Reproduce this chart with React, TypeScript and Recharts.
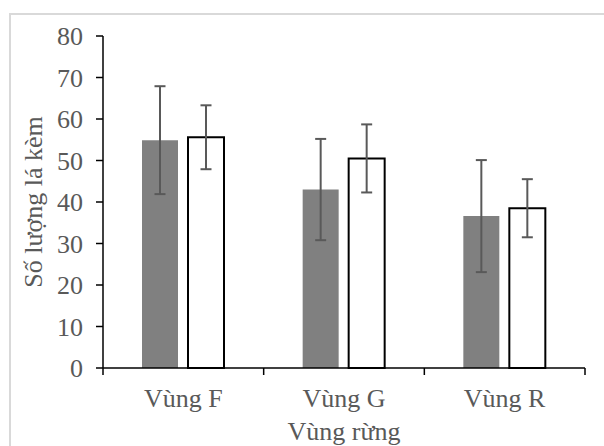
import React from 'react';
import { BarChart, Bar, XAxis, YAxis, ErrorBar, Label } from 'recharts';

const categories = ['Vùng F', 'Vùng G', 'Vùng R'];
const grayValues = [54.9, 43.0, 36.6];
const grayErrors = [13.0, 12.2, 13.5];
const whiteValues = [55.6, 50.5, 38.5];
const whiteErrors = [7.7, 8.2, 7.0];
const yTicks = [0, 10, 20, 30, 40, 50, 60, 70, 80];
const xAxisTitle = 'Vùng rừng';
const yAxisTitle = 'Số lượng lá kèm';

const data = categories.map((c, i) => ({
  category: c,
  gray: grayValues[i],
  grayErr: grayErrors[i],
  white: whiteValues[i],
  whiteErr: whiteErrors[i],
}));

const FONT = '"Liberation Serif", "Times New Roman", serif';
const TEXT_COLOR = '#595959';
const X_TICK_SIZE = 7;
const X_TICK_MARGIN = 14;

const XTick = (props: any) => {
  const { x, y, payload, index } = props;
  const half = payload && typeof payload.offset === 'number' && payload.offset > 0 ? payload.offset : 80.25;
  const axisY = y - X_TICK_MARGIN - X_TICK_SIZE;
  return (
    <g>
      <line x1={x - half} x2={x - half} y1={axisY} y2={axisY + X_TICK_SIZE} stroke="#000" strokeWidth={1.5} />
      {index === categories.length - 1 && (
        <line x1={x + half} x2={x + half} y1={axisY} y2={axisY + X_TICK_SIZE} stroke="#000" strokeWidth={1.5} />
      )}
      <text x={x} y={y} dy="0.71em" textAnchor="middle" fill={TEXT_COLOR} fontSize={26} fontFamily={FONT}>
        {payload.value}
      </text>
    </g>
  );
};

export default function App() {
  return (
    <div style={{ position: 'absolute', left: 0, top: 0, width: 604, height: 446, overflow: 'hidden', background: '#fff' }}>
      <div
        style={{
          position: 'absolute',
          left: 9,
          top: 13,
          width: 700,
          height: 600,
          border: '2px solid #d9d9d9',
          boxSizing: 'border-box',
        }}
      />
      <div style={{ position: 'absolute', left: 0, top: 0 }}>
        <BarChart
          width={604}
          height={446}
          data={data}
          margin={{ top: 36, right: 19, bottom: 0, left: 0 }}
          barGap={10}
          barSize={36}
        >
          <XAxis
            dataKey="category"
            height={78}
            interval={0}
            tickSize={X_TICK_SIZE}
            tickMargin={X_TICK_MARGIN}
            tickLine={false}
            axisLine={{ stroke: '#000', strokeWidth: 1.5 }}
            tick={<XTick />}
          >
            <Label
              content={() => (
                <text x={344} y={440} textAnchor="middle" fill={TEXT_COLOR} fontSize={26} fontFamily={FONT}>
                  {xAxisTitle}
                </text>
              )}
            />
          </XAxis>
          <YAxis
            width={103}
            domain={[0, 80]}
            ticks={yTicks}
            interval={0}
            tickSize={7}
            tickMargin={13}
            axisLine={{ stroke: '#000', strokeWidth: 1.5 }}
            tickLine={{ stroke: '#000', strokeWidth: 1.5 }}
            tick={{ fill: TEXT_COLOR, fontSize: 26, fontFamily: FONT }}
          >
            <Label
              content={() => (
                <text
                  x={42}
                  y={202}
                  transform="rotate(-90 42 202)"
                  textAnchor="middle"
                  fill={TEXT_COLOR}
                  fontSize={26}
                  fontFamily={FONT}
                >
                  {yAxisTitle}
                </text>
              )}
            />
          </YAxis>
          <Bar dataKey="gray" fill="#808080" isAnimationActive={false}>
            <ErrorBar dataKey="grayErr" width={5.5} stroke="#595959" strokeWidth={2} direction="y" isAnimationActive={false} />
          </Bar>
          <Bar dataKey="white" fill="#ffffff" stroke="#000" strokeWidth={2} isAnimationActive={false}>
            <ErrorBar dataKey="whiteErr" width={5.5} stroke="#595959" strokeWidth={2} direction="y" isAnimationActive={false} />
          </Bar>
        </BarChart>
      </div>
    </div>
  );
}
